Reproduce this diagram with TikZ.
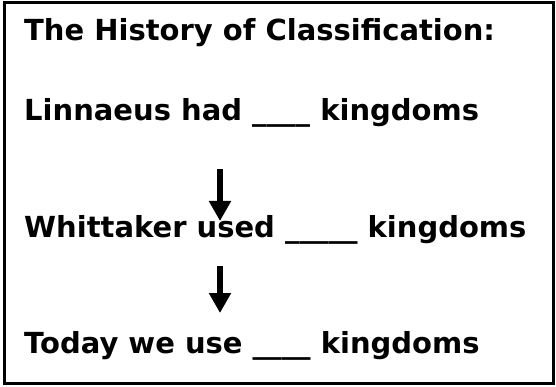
\documentclass[tikz,border=0pt]{standalone}
\usepackage{fontspec}
\usetikzlibrary{arrows.meta}
\newfontfamily\labelfont{DejaVu Sans}[BoldFont={DejaVu Sans Bold}]
\begin{document}
\begin{tikzpicture}[x=1pt,y=-1pt,
  textline/.style={anchor=base west,inner sep=0pt,font=\labelfont\bfseries\fontsize{29pt}{34pt}\selectfont},
  flow/.style={line width=6.5pt,-{Triangle[width=21pt,length=20pt]}}]
  \useasboundingbox (0,0) rectangle (556,387);
  \draw[line width=3pt] (4.5,3) rectangle (553.5,383.5);
  \node[textline] (title) at (24,41) {The History of Classification:};
  \node[textline] (linnaeus) at (24,121) {Linnaeus had \_\_\_\_ kingdoms};
  \node[textline] (whittaker) at (24,237) {Whittaker used \_\_\_\_\_ kingdoms};
  \node[textline] (today) at (24,353) {Today we use \_\_\_\_ kingdoms};
  \coordinate (a1s) at (220,169);
  \coordinate (a1e) at (220,221);
  \coordinate (a2s) at (220,266);
  \coordinate (a2e) at (220,313);
  \draw[flow] (a1s) -- (a1e);
  \draw[flow] (a2s) -- (a2e);
\end{tikzpicture}
\end{document}
